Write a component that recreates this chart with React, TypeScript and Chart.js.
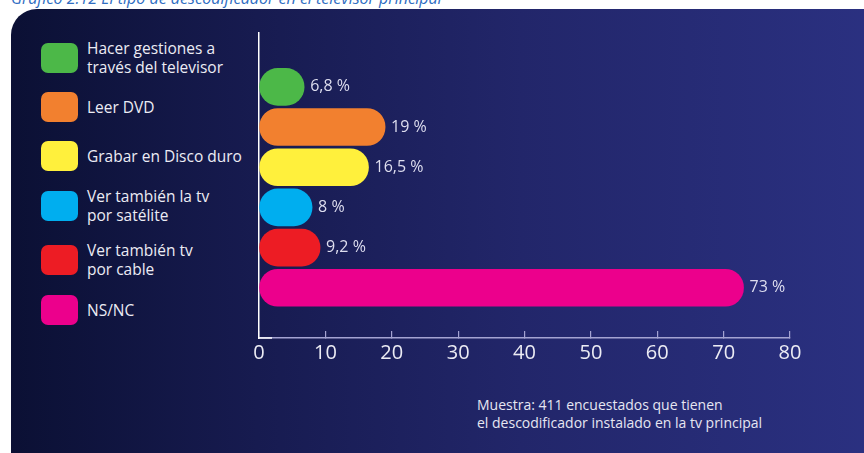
import React, { useEffect, useRef } from "react";
import { Chart, registerables } from "chart.js";

Chart.register(...registerables);

const TITLE = "Gráfico 2.12 El tipo de descodificador en el televisor principal";
const FOOTNOTE = [
  "Muestra: 411 encuestados que tienen",
  "el descodificador instalado en la tv principal",
];

const categories: string[][] = [
  ["Hacer gestiones a", "través del televisor"],
  ["Leer DVD"],
  ["Grabar en Disco duro"],
  ["Ver también la tv", "por satélite"],
  ["Ver también tv", "por cable"],
  ["NS/NC"],
];
const values: number[] = [6.8, 19, 16.5, 8, 9.2, 73];
const colors: string[] = ["#4cb848", "#f2802f", "#fff03c", "#00aeef", "#ed1c24", "#ec008c"];
const xTicks: number[] = [0, 10, 20, 30, 40, 50, 60, 70, 80];

const FONT = "'Open Sans', 'Noto Sans', sans-serif";

const fmt = (v: number) => String(v).replace(".", ",") + " %";

const valueLabels = {
  id: "valueLabels",
  afterDatasetsDraw(chart: any) {
    const ctx = chart.ctx;
    const meta = chart.getDatasetMeta(0);
    ctx.save();
    ctx.font = `16px ${FONT}`;
    ctx.fillStyle = "#dedeef";
    ctx.textAlign = "left";
    ctx.textBaseline = "middle";
    meta.data.forEach((el: any, i: number) => {
      ctx.fillText(fmt(values[i]), el.x + 6, el.y);
    });
    const a = chart.chartArea;
    ctx.strokeStyle = "#ffffff";
    ctx.lineWidth = 1.5;
    ctx.beginPath();
    ctx.moveTo(a.left, a.bottom);
    ctx.lineTo(a.left + 13, a.bottom);
    ctx.stroke();
    ctx.restore();
  },
};

export default function App() {
  const ref = useRef<HTMLCanvasElement>(null);

  useEffect(() => {
    if (!ref.current) return;
    const chart = new Chart(ref.current, {
      type: "bar",
      data: {
        datasets: [
          {
            data: values.map((v, i) => ({ x: v, y: i })),
            backgroundColor: colors,
            borderWidth: 0,
            borderRadius: 30,
            borderSkipped: false,
            barThickness: 37,
          },
        ],
      },
      options: {
        indexAxis: "y",
        responsive: false,
        animation: false,
        layout: { padding: { left: 259, top: 33, right: 74, bottom: 75 } },
        plugins: { legend: { display: false }, tooltip: { enabled: false } },
        scales: {
          x: {
            type: "linear",
            min: 0,
            max: 80,
            afterBuildTicks: (s: any) => {
              s.ticks = xTicks.map((v) => ({ value: v }));
            },
            afterFit: (s: any) => {
              s.height = 40;
            },
            grid: {
              drawOnChartArea: false,
              drawTicks: true,
              tickLength: -7,
              color: "#a4a3d2",
              lineWidth: 1.2,
            },
            border: { display: true, color: "#a4a3d2", width: 1.5 },
            ticks: {
              color: "#ececf4",
              font: { family: FONT, size: 20 },
              padding: 10,
              maxRotation: 0,
              autoSkip: false,
            },
          },
          y: {
            type: "linear",
            reverse: true,
            offset: false,
            bounds: "data",
            min: -1.34,
            max: 6.25,
            afterDataLimits: (s: any) => {
              s.min = -1.34;
              s.max = 6.25;
            },
            afterFit: (s: any) => {
              s.width = 0;
            },
            grid: { display: false, drawTicks: false, offset: false },
            ticks: { display: false },
            border: { display: true, color: "#ffffff", width: 1.5 },
          },
        },
      },
      plugins: [valueLabels],
    });
    return () => chart.destroy();
  }, []);

  const swatchTops = [43, 92, 141, 191, 245, 295];

  return (
    <div
      style={{
        position: "fixed",
        left: 0,
        top: 0,
        width: 864,
        height: 453,
        overflow: "hidden",
        background: "#ffffff",
        fontFamily: FONT,
      }}
    >
      <div
        style={{
          position: "absolute",
          left: 11,
          top: -10,
          fontSize: 16,
          lineHeight: "16px",
          fontStyle: "italic",
          color: "#2f6dc2",
          whiteSpace: "nowrap",
        }}
      >
        {TITLE}
      </div>
      <div
        style={{
          position: "absolute",
          left: 11,
          top: 9,
          width: 880,
          height: 470,
          borderRadius: 26,
          background:
            "linear-gradient(to right, #0b1034 0%, #171b50 28%, #22266a 58%, #2b3182 100%)",
        }}
      />
      {categories.map((lines, i) => (
        <div key={i}>
          <div
            style={{
              position: "absolute",
              left: 41,
              top: swatchTops[i],
              width: 37,
              height: 30,
              borderRadius: 7,
              background: colors[i],
            }}
          />
          <div
            style={{
              position: "absolute",
              left: 87,
              top: swatchTops[i] + 15 - (lines.length * 19) / 2,
              fontSize: 15.5,
              lineHeight: "19px",
              color: "#ececf4",
              whiteSpace: "nowrap",
            }}
          >
            {lines.map((l, j) => (
              <div key={j}>{l}</div>
            ))}
          </div>
        </div>
      ))}
      <div
        style={{
          position: "absolute",
          left: 477,
          top: 396,
          fontSize: 14,
          lineHeight: "18px",
          color: "#e6e6f2",
          whiteSpace: "nowrap",
        }}
      >
        {FOOTNOTE.map((l, j) => (
          <div key={j}>{l}</div>
        ))}
      </div>
      <canvas
        ref={ref}
        width={864}
        height={453}
        style={{ position: "absolute", left: 0, top: 0, width: 864, height: 453 }}
      />
    </div>
  );
}
